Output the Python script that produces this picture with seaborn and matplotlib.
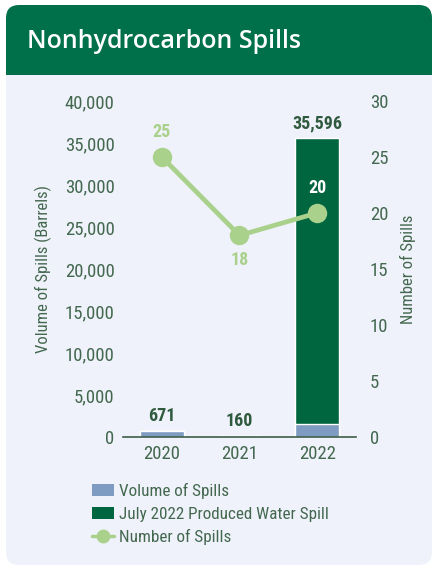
import numpy as np
import pandas as pd
import seaborn as sns
import matplotlib.pyplot as plt
from matplotlib.patches import FancyBboxPatch, Rectangle
from matplotlib.lines import Line2D

years = ["2020", "2021", "2022"]
volume = [671, 160, 1596]
july_spill = [0, 0, 34000]
num_spills = [25, 18, 20]
totals = [v + j for v, j in zip(volume, july_spill)]

BLUE = "#7e9bc2"
DKGREEN = "#00663f"
HEADER = "#00704a"
LTGREEN = "#a9d18c"
TEXT = "#44684f"
BG = "#eff2fa"

sns.set_theme(style="white")
plt.rcParams["font.family"] = ["Liberation Sans Narrow", "Roboto Condensed",
                               "Roboto", "DejaVu Sans"]

W, H = 437, 569
fig = plt.figure(figsize=(W / 100, H / 100), dpi=100)
fig.patch.set_facecolor("white")


def fx(x):
    return x / W


def fy(y):
    return 1 - y / H


# card background and header
card = FancyBboxPatch((fx(6), fy(565)), fx(426), (560) / H,
                      boxstyle="round,pad=0,rounding_size=0.03",
                      transform=fig.transFigure, fc=BG, ec="none",
                      mutation_aspect=W / H, zorder=-3)
fig.patches.append(card)
head = FancyBboxPatch((fx(6), fy(95)), fx(426), 90 / H,
                      boxstyle="round,pad=0,rounding_size=0.03",
                      transform=fig.transFigure, fc=HEADER, ec="none",
                      mutation_aspect=W / H, zorder=-2)
fig.patches.append(head)
fig.patches.append(Rectangle((fx(6), fy(100)), fx(426), 25 / H,
                             transform=fig.transFigure, fc=BG, ec="none",
                             zorder=-1))
fig.text(fx(27), fy(42), "Nonhydrocarbon Spills", color="white",
         fontsize=18, fontweight="semibold",
         family=["Open Sans", "DejaVu Sans"], va="center")

ax = fig.add_axes([fx(123), fy(437), fx(233), (437 - 101) / H])
ax.set_facecolor("none")

df = pd.DataFrame({"Year": years, "Volume": volume, "Total": totals,
                   "Spills": num_spills})

sns.barplot(data=df, x="Year", y="Total", color=DKGREEN, width=0.56,
            saturation=1, ax=ax)
sns.barplot(data=df, x="Year", y="Volume", color=BLUE, width=0.56,
            saturation=1, ax=ax)

ax.set_ylim(0, 40000)
ax.set_xlim(-0.5, 2.5)
ax.set_yticks(range(0, 40001, 5000))
ax.set_yticklabels([f"{v:,}" for v in range(0, 40001, 5000)])
ax.tick_params(axis="both", colors=TEXT, labelsize=13.5, length=0, pad=6)
ax.set_xlabel("")
ax.set_ylabel("Volume of Spills (Barrels)", color=TEXT, fontsize=12,
              labelpad=9)
for s in ["top", "right", "left"]:
    ax.spines[s].set_visible(False)
ax.spines["bottom"].set_color("#3d5e48")
ax.spines["bottom"].set_linewidth(1.2)

for i, (v, t) in enumerate(zip(volume, totals)):
    ax.text(i, t + 700, f"{t:,}", ha="center", va="bottom", color="#2f5a3e",
            fontsize=13, fontweight="bold")

ax2 = ax.twinx()
ax2.set_facecolor("none")
sns.lineplot(x=[0, 1, 2], y=num_spills, color=LTGREEN, linewidth=3.4,
             marker="o", markersize=14, markeredgewidth=0, ax=ax2)
ax2.set_ylim(0, 30)
ax2.set_xlim(-0.5, 2.5)
ax2.set_yticks(range(0, 31, 5))
ax2.tick_params(axis="y", colors=TEXT, labelsize=13.5, length=0, pad=10)
ax2.set_ylabel("Number of Spills", color=TEXT, fontsize=12, labelpad=8)
for s in ["top", "right", "left", "bottom"]:
    ax2.spines[s].set_visible(False)

ax2.text(0, 25 + 1.4, "25", ha="center", va="bottom", color=LTGREEN,
         fontsize=13, fontweight="bold")
ax2.text(1, 18 - 1.4, "18", ha="center", va="top", color=LTGREEN,
         fontsize=13, fontweight="bold")
ax2.text(2, 20 + 1.4, "20", ha="center", va="bottom", color="white",
         fontsize=13, fontweight="bold")

handles = [
    Rectangle((0, 0), 1, 1, fc=BLUE, ec="none"),
    Rectangle((0, 0), 1, 1, fc=DKGREEN, ec="none"),
    Line2D([0], [0], color=LTGREEN, lw=2.5, marker="o", markersize=10,
           markeredgewidth=0),
]
labels = ["Volume of Spills", "July 2022 Produced Water Spill",
          "Number of Spills"]
leg = fig.legend(handles, labels, loc="upper left",
                 bbox_to_anchor=(fx(85), fy(476)), frameon=False,
                 fontsize=12.3, labelcolor=TEXT, handlelength=1.3,
                 handletextpad=0.3, labelspacing=0.45, borderaxespad=0)

fig.savefig("out.png", dpi=100)
